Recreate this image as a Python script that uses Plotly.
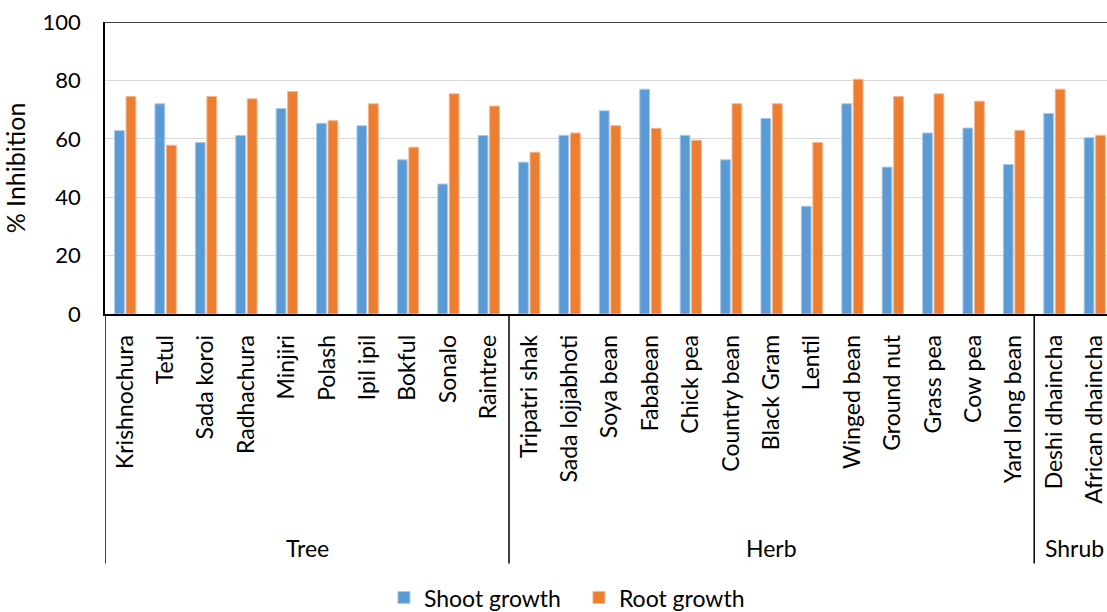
import plotly.graph_objects as go

categories = ["Krishnochura", "Tetul", "Sada koroi", "Radhachura", "Minjiri", "Polash",
              "Ipil ipil", "Bokful", "Sonalo", "Raintree",
              "Tripatri shak", "Sada lojjabhoti", "Soya bean", "Fababean", "Chick pea",
              "Country bean", "Black Gram", "Lentil", "Winged bean", "Ground nut",
              "Grass pea", "Cow pea", "Yard long bean",
              "Deshi dhaincha", "African dhaincha"]
groups = ["Tree"] * 10 + ["Herb"] * 13 + ["Shrub"] * 2
shoot = [62.8, 72.0, 58.7, 61.1, 70.4, 65.3, 64.5, 52.8, 44.5, 61.1,
         52.0, 61.2, 69.6, 77.0, 61.2, 52.8, 67.0, 36.9, 72.0, 50.3,
         62.0, 63.7, 51.2, 68.7, 60.4]
root = [74.5, 57.8, 74.5, 73.7, 76.2, 66.2, 72.0, 57.1, 75.4, 71.2,
        55.4, 62.0, 64.5, 63.6, 59.5, 72.0, 72.0, 58.7, 80.4, 74.5,
        75.4, 72.9, 62.9, 77.0, 61.2]
y_ticks = [0, 20, 40, 60, 80, 100]

FONT = "Lato"
idx = list(range(len(categories)))

fig = go.Figure()
fig.add_trace(go.Bar(x=idx, y=shoot, name="Shoot growth",
                     marker=dict(color="#5B9BD5", line=dict(color="#A9CBEB", width=1))))
fig.add_trace(go.Bar(x=idx, y=root, name="Root growth",
                     marker=dict(color="#ED7D31", line=dict(color="#F5B78E", width=1))))

n = len(categories)
cat_w = 40.4
plot_h = 291.7
xmax = n - 0.5 - (1115 - 1107) / cat_w

def py(px):  # page pixel y -> paper fraction
    return (313.7 - px) / plot_h

fig.update_layout(
    width=1107, height=612,
    margin=dict(l=105, r=0, t=22, b=612 - 313.7, autoexpand=False),
    paper_bgcolor="white", plot_bgcolor="white",
    barmode="group", bargap=0.43, bargroupgap=0.15,
    font=dict(family=FONT, size=22, color="black"),
    showlegend=True,
    legend=dict(orientation="h", x=0.473, xanchor="center", y=py(597), yanchor="middle",
                font=dict(family=FONT, size=23), itemwidth=30, entrywidth=150,
                traceorder="normal"),
    xaxis=dict(range=[-0.5, xmax], tickmode="array", tickvals=idx, ticktext=categories,
               tickangle=-90, showline=True, linecolor="black", linewidth=1.5,
               showgrid=False, ticks="", ticklabelstandoff=10, ticklabeloverflow="allow",
               tickfont=dict(family=FONT, size=23), zeroline=False),
    yaxis=dict(range=[0, 100], tickmode="array", tickvals=y_ticks,
               showline=True, linecolor="black", linewidth=1.5,
               showgrid=True, gridcolor="#D9D9D9", gridwidth=1.3, zeroline=False,
               ticks="", ticklabelstandoff=18, ticklabeloverflow="allow",
               tickfont=dict(family=FONT, size=22),
               title=dict(text="% Inhibition", font=dict(family=FONT, size=25), standoff=12)),
)

# top border
fig.add_shape(type="line", xref="paper", yref="y", x0=0, x1=1, y0=100, y1=100,
              line=dict(color="black", width=1.5))

# group dividers and labels
bottom = py(563)
label_y = py(547)
bounds = [0]
for i in range(1, n):
    if groups[i] != groups[i - 1]:
        bounds.append(i)
bounds.append(n)
for b in bounds[:-1]:
    fig.add_shape(type="line", xref="x", yref="paper", x0=b - 0.5, x1=b - 0.5,
                  y0=0, y1=bottom, line=dict(color="black", width=1.5), layer="above")
for s, e in zip(bounds[:-1], bounds[1:]):
    fig.add_annotation(x=(s + e - 1) / 2, y=label_y, xref="x", yref="paper",
                       text=groups[s], showarrow=False, yanchor="middle",
                       font=dict(family=FONT, size=23, color="black"))

fig.write_html("out.html", config={"displayModeBar": False},
               post_script="document.body.style.margin='0';document.body.style.overflow='hidden';")
